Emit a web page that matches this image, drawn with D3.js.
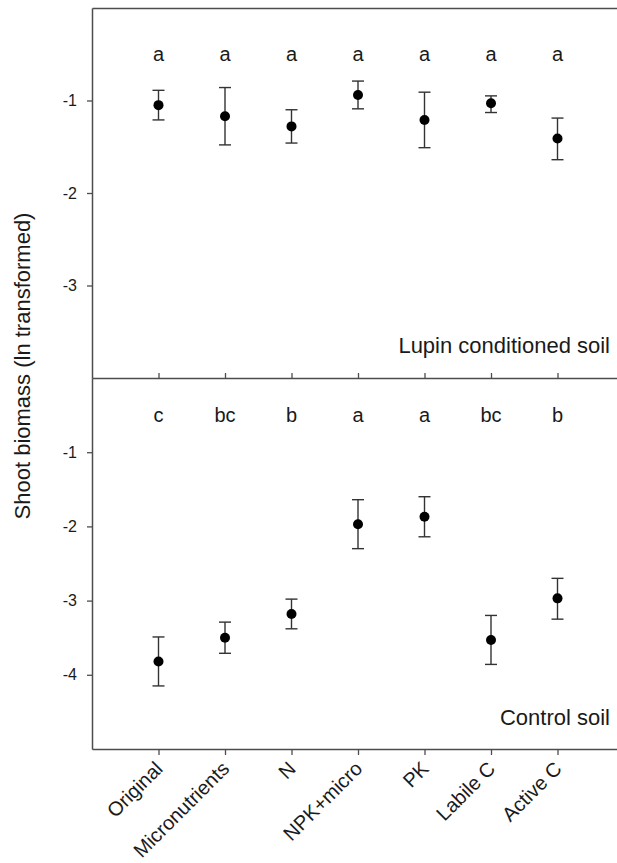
<!DOCTYPE html>
<html>
<head>
<meta charset="utf-8">
<script src="https://cdn.jsdelivr.net/npm/d3@7"></script>
<style>
  body { margin: 0; background: #fff; }
  svg { display: block; font-family: Arial, "Liberation Sans", sans-serif; }
</style>
</head>
<body>
<div id="chart"></div>
<script>
const treatments = ["Original", "Micronutrients", "N", "NPK+micro", "PK", "Labile C", "Active C"];

// Lupin conditioned soil (mean and error bar ends)
const lupinMean  = [-1.05, -1.17, -1.28, -0.94, -1.21, -1.03, -1.41];
const lupinUpper = [-0.89, -0.86, -1.10, -0.79, -0.91, -0.95, -1.19];
const lupinLower = [-1.21, -1.48, -1.46, -1.09, -1.51, -1.13, -1.64];
const lupinLetters = ["a", "a", "a", "a", "a", "a", "a"];
const lupinTicks = [-1, -2, -3];

// Control soil
const controlMean  = [-3.82, -3.50, -3.18, -1.97, -1.87, -3.53, -2.97];
const controlUpper = [-3.49, -3.29, -2.98, -1.64, -1.60, -3.20, -2.70];
const controlLower = [-4.15, -3.71, -3.38, -2.30, -2.14, -3.86, -3.25];
const controlLetters = ["c", "bc", "b", "a", "a", "bc", "b"];
const controlTicks = [-1, -2, -3, -4];

const svgWidth = 617;
const svgHeight = 863;
const plotLeft = 92;
const plotTop = 8;
const plotMid = 378;
const plotBottom = 749;
const lineColor = "#4d4d4d";

const svg = d3.select("#chart")
    .append("svg")
    .attr("width", svgWidth)
    .attr("height", svgHeight);

// x axis runs past the right edge of the picture (cropped figure)
const xScale = d3.scalePoint()
    .domain(treatments)
    .range([plotLeft, plotLeft + 66.5 * 8])
    .padding(1);

const yTop = d3.scaleLinear().domain([-4, 0]).range([plotMid, plotTop]);
const yBottom = d3.scaleLinear().domain([-5, 0]).range([plotBottom, plotMid]);

function styleAxis(g) {
    g.select(".domain").attr("stroke", lineColor).attr("stroke-width", 1.5);
    g.selectAll(".tick line").attr("stroke", lineColor).attr("stroke-width", 1.3);
    g.selectAll(".tick text").attr("fill", "#1a1a1a").style("font-size", "16px");
}

function drawPanel(yScale, mean, upper, lower, letters, ticks, label, labelY) {
    const rows = treatments.map((t, i) => ({
        t: t, mean: mean[i], upper: upper[i], lower: lower[i], letter: letters[i]
    }));

    svg.append("g")
        .attr("transform", `translate(${plotLeft},0)`)
        .call(d3.axisLeft(yScale)
            .tickValues(ticks)
            .tickFormat(d => String(d))   // plain hyphen like the original
            .tickSize(5)
            .tickSizeOuter(0)
            .tickPadding(10))
        .call(styleAxis);

    const nodes = svg.selectAll(null)
        .data(rows)
        .enter().append("g");

    nodes.append("line")
        .attr("x1", d => xScale(d.t))
        .attr("x2", d => xScale(d.t))
        .attr("y1", d => yScale(d.upper))
        .attr("y2", d => yScale(d.lower))
        .attr("stroke", "#333")
        .attr("stroke-width", 1.4);

    ["upper", "lower"].forEach(k => {
        nodes.append("line")
            .attr("x1", d => xScale(d.t) - 6)
            .attr("x2", d => xScale(d.t) + 6)
            .attr("y1", d => yScale(d[k]))
            .attr("y2", d => yScale(d[k]))
            .attr("stroke", "#333")
            .attr("stroke-width", 1.4);
    });

    nodes.append("circle")
        .attr("cx", d => xScale(d.t))
        .attr("cy", d => yScale(d.mean))
        .attr("r", 5)
        .attr("fill", "#000");

    nodes.append("text")
        .attr("x", d => xScale(d.t))
        .attr("y", yScale(-0.5))
        .attr("dy", "0.36em")
        .style("text-anchor", "middle")
        .style("font-size", "20px")
        .attr("fill", "#1a1a1a")
        .text(d => d.letter);

    svg.append("text")
        .attr("x", 610)
        .attr("y", labelY)
        .style("text-anchor", "end")
        .style("font-size", "22px")
        .attr("fill", "#1a1a1a")
        .text(label);
}

drawPanel(yTop, lupinMean, lupinUpper, lupinLower, lupinLetters, lupinTicks,
    "Lupin conditioned soil", 353);
drawPanel(yBottom, controlMean, controlUpper, controlLower, controlLetters, controlTicks,
    "Control soil", 725);

// top border
svg.append("g")
    .attr("transform", `translate(0,${plotTop})`)
    .call(d3.axisTop(xScale).tickValues([]).tickSizeOuter(0))
    .call(styleAxis);

// line between panels, ticks pointing up into the top panel
svg.append("g")
    .attr("transform", `translate(0,${plotMid})`)
    .call(d3.axisBottom(xScale).tickSize(-5).tickSizeOuter(0).tickFormat(""))
    .call(styleAxis);

// bottom axis with rotated labels
const xAxisG = svg.append("g")
    .attr("transform", `translate(0,${plotBottom})`)
    .call(d3.axisBottom(xScale).tickSize(6).tickSizeOuter(0))
    .call(styleAxis);

xAxisG.selectAll(".tick text")
    .attr("y", 0)
    .attr("dy", 0)
    .attr("transform", "translate(5,21) rotate(-45)")
    .style("text-anchor", "end")
    .style("font-size", "20px");

// y axis title
svg.append("text")
    .attr("transform", `translate(30, 366) rotate(-90)`)
    .style("text-anchor", "middle")
    .style("font-size", "22px")
    .attr("fill", "#1a1a1a")
    .text("Shoot biomass (ln transformed)");
</script>
</body>
</html>
